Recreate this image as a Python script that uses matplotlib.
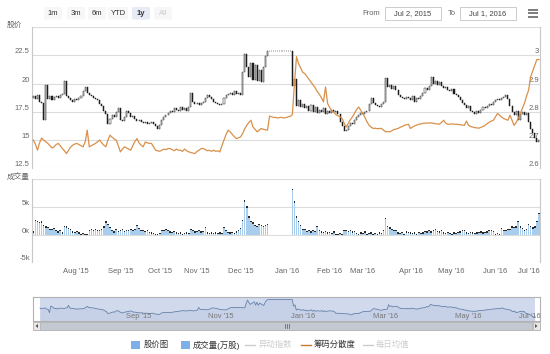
import numpy as np
import pandas as pd
import matplotlib
matplotlib.use("Agg")
import matplotlib.pyplot as plt
from matplotlib.patches import Rectangle, FancyBboxPatch, Polygon
from matplotlib.transforms import offset_copy

plt.rcParams['font.family'] = ['Liberation Sans', 'Noto Sans CJK SC', 'DejaVu Sans']

# trading calendar (Shanghai/Shenzhen), Jul 2 2015 - Jul 1 2016
holidays = ["2015-09-03", "2015-09-04", "2015-10-01", "2015-10-02", "2015-10-05",
            "2015-10-06", "2015-10-07", "2016-01-01", "2016-02-08", "2016-02-09",
            "2016-02-10", "2016-02-11", "2016-02-12", "2016-04-04", "2016-05-02",
            "2016-06-09", "2016-06-10"]
days = pd.bdate_range("2015-07-02", "2016-07-01")
days = days[~days.isin(pd.to_datetime(holidays))]

# daily close (股价)
closes = [18.9, 18.6, 19.0, 18.4, 18.3, 16.8, 19.9, 18.6, 18.9, 18.5,
          18.8, 18.9, 18.7, 19.0, 19.1, 20.2, 18.9, 18.7, 18.5, 18.4,
          18.6, 18.5, 18.7, 18.9, 19.3, 19.7, 19.2, 19.0, 18.9, 18.7,
          18.6, 18.5, 18.2, 18.0, 17.6, 17.3, 16.4, 16.9, 17.2, 17.0,
          17.5, 17.8, 16.8, 16.7, 17.0, 17.6, 17.4, 17.0, 17.1, 16.9,
          16.7, 16.8, 16.6, 16.5, 16.6, 16.4, 16.5, 16.6, 16.4, 16.2,
          16.0, 16.3, 16.8, 17.0, 17.2, 17.4, 17.6, 17.5, 17.8, 17.7,
          17.6, 17.9, 17.7, 17.8, 17.6, 17.9, 19.2, 18.4, 18.2, 18.3,
          18.1, 18.3, 18.4, 18.7, 19.0, 18.8, 18.6, 18.4, 18.3, 18.2,
          18.1, 18.2, 18.7, 19.0, 19.1, 19.2, 19.0, 19.3, 19.1, 19.2,
          19.0, 21.0, 22.6, 21.5, 20.6, 21.8, 20.3, 21.6, 20.2, 21.2,
          20.1, 21.5, 22.4, 22.85, 22.85, 22.85, 22.85, 22.85, 22.85, 22.85,
          22.85, 22.85, 22.85, 22.85, 22.85, 19.8, 20.4, 18.0, 18.5, 17.9,
          18.2, 17.8, 18.0, 17.6, 18.1, 17.5, 17.9, 17.4, 17.7, 17.5,
          17.8, 17.3, 17.6, 17.4, 17.7, 17.5, 17.6, 17.3, 16.6, 16.2,
          15.8, 15.9, 16.2, 16.5, 16.4, 16.8, 17.0, 17.2, 17.4, 17.3,
          17.5, 17.6, 18.2, 18.7, 18.3, 18.1, 18.0, 17.9, 18.2, 18.4,
          20.5, 19.7, 19.9, 19.5, 19.8, 19.4, 19.0, 18.8, 18.7, 18.6,
          18.8, 18.7, 18.5, 18.9, 18.4, 18.7, 18.6, 18.9, 19.2, 19.6,
          19.4, 19.8, 20.6, 20.0, 20.2, 19.9, 20.1, 19.8, 19.6, 19.7,
          19.4, 19.3, 19.5, 19.1, 19.0, 18.8, 18.5, 18.3, 18.1, 17.8,
          18.0, 17.6, 17.5, 17.3, 17.6, 17.4, 17.7, 17.9, 17.8, 18.0,
          18.2, 18.1, 18.4, 18.5, 18.6, 18.5, 18.7, 18.8, 19.0, 18.6,
          18.0, 17.5, 17.2, 17.6, 16.8, 17.3, 17.5, 17.2, 17.4, 16.6,
          16.0, 15.6, 15.2, 14.8, 15.0]
first_open = 18.7

# 筹码分散度 (right axis)
dispersion = [2.700, 2.685, 2.664, 2.690, 2.707, 2.700, 2.694, 2.688, 2.680, 2.672,
              2.676, 2.684, 2.688, 2.680, 2.670, 2.662, 2.652, 2.664, 2.675, 2.682,
              2.686, 2.688, 2.684, 2.680, 2.676, 2.693, 2.735, 2.676, 2.680, 2.684,
              2.688, 2.694, 2.700, 2.690, 2.682, 2.676, 2.700, 2.717, 2.710, 2.704,
              2.700, 2.680, 2.658, 2.668, 2.676, 2.672, 2.668, 2.664, 2.680, 2.695,
              2.705, 2.690, 2.682, 2.676, 2.693, 2.690, 2.688, 2.688, 2.676, 2.664,
              2.662, 2.660, 2.664, 2.668, 2.666, 2.670, 2.670, 2.666, 2.662, 2.668,
              2.664, 2.664, 2.660, 2.668, 2.662, 2.658, 2.656, 2.654, 2.652, 2.660,
              2.664, 2.670, 2.670, 2.666, 2.662, 2.664, 2.660, 2.664, 2.660, 2.662,
              2.658, 2.680, 2.700, 2.720, 2.735, 2.729, 2.720, 2.712, 2.705, 2.708,
              2.711, 2.723, 2.740, 2.752, 2.762, 2.770, 2.746, 2.738, 2.729, 2.735,
              2.741, 2.738, 2.736, 2.735, 2.785, 2.782, 2.780, 2.780, 2.778, 2.780,
              2.780, 2.778, 2.780, 2.782, 2.784, 2.790, 2.900, 2.995, 2.970, 2.955,
              2.940, 2.935, 2.925, 2.915, 2.905, 2.895, 2.885, 2.872, 2.862, 2.850,
              2.835, 2.888, 2.830, 2.815, 2.805, 2.798, 2.790, 2.786, 2.782, 2.777,
              2.760, 2.746, 2.760, 2.772, 2.782, 2.795, 2.808, 2.817, 2.805, 2.794,
              2.780, 2.765, 2.752, 2.746, 2.741, 2.742, 2.740, 2.741, 2.741, 2.735,
              2.729, 2.730, 2.729, 2.733, 2.737, 2.739, 2.741, 2.745, 2.748, 2.752,
              2.754, 2.756, 2.741, 2.746, 2.750, 2.753, 2.756, 2.757, 2.759, 2.760,
              2.760, 2.760, 2.761, 2.759, 2.758, 2.757, 2.756, 2.762, 2.770, 2.760,
              2.756, 2.756, 2.757, 2.756, 2.756, 2.755, 2.754, 2.753, 2.752, 2.767,
              2.752, 2.748, 2.746, 2.744, 2.743, 2.742, 2.745, 2.748, 2.752, 2.758,
              2.763, 2.767, 2.770, 2.782, 2.794, 2.788, 2.781, 2.776, 2.773, 2.770,
              2.788, 2.770, 2.752, 2.762, 2.776, 2.795, 2.812, 2.830, 2.855, 2.877,
              2.924, 2.945, 2.965, 2.985, 2.985]

# 成交量 (thousands)
volume_k = [0.6, 2.7, 2.5, 2.3, 2.4, 1.8, 1.5, 1.4, 1.1, 1.0,
            1.2, 0.8, 0.6, 0.9, 0.4, 1.6, 1.5, 1.2, 1.0, 0.6,
            0.5, 0.7, 0.4, 0.2, 0.3, 0.1, 0.2, 0.9, 1.1, 0.8,
            1.0, 0.9, 0.8, 1.0, 1.5, 2.4, 2.0, 1.4, 0.8, 0.6,
            1.0, 0.7, 0.9, 1.1, 0.7, 0.9, 0.8, 1.0, 0.8, 1.1,
            1.7, 1.2, 0.8, 0.9, 0.7, 0.8, 0.5, 0.4, 0.3, 0.2,
            0.2, 0.3, 0.9, 0.8, 1.0, 0.9, 0.6, 0.5, 0.7, 0.4,
            0.3, 0.4, 0.2, 0.3, 0.4, 0.3, 1.0, 0.9, 0.6, 0.7,
            0.8, 0.6, 0.7, 1.4, 0.4, 0.3, 0.4, 0.3, 0.4, 0.3,
            0.4, 0.3, 1.4, 0.8, 0.5, 0.4, 0.5, 0.3, 0.6, 0.9,
            1.2, 2.7, 6.2, 5.1, 3.3, 2.5, 2.2, 1.8, 1.6, 1.9,
            1.7, 1.6, 1.8, 1.9, 0, 0, 0, 0, 0, 0,
            0, 0, 0, 0, 0, 8.2, 6.0, 3.3, 2.5, 1.7,
            1.1, 1.0, 0.7, 0.9, 0.6, 0.8, 0.7, 1.6, 0.8, 0.6,
            0.5, 0.7, 0.4, 0.5, 0.3, 0.6, 0.2, 0.2, 0.3, 0.2,
            0.8, 0.9, 0.7, 0.8, 0.6, 0.7, 0.3, 0.2, 0.4, 0.3,
            0.6, 0.2, 0.3, 0.4, 0.2, 0.3, 0.2, 0.4, 0.3, 0.8,
            3.0, 1.6, 1.3, 1.0, 0.9, 0.8, 0.4, 0.3, 0.5, 0.2,
            0.6, 0.5, 0.4, 0.3, 0.4, 0.2, 0.5, 0.3, 0.4, 0.7,
            0.6, 0.8, 0.6, 0.9, 1.0, 0.7, 0.6, 0.8, 0.4, 0.3,
            0.5, 0.3, 0.2, 0.4, 0.3, 0.5, 0.6, 0.9, 0.8, 0.4,
            0.3, 0.5, 0.4, 0.3, 0.4, 0.5, 0.6, 0.4, 0.5, 0.6,
            0.9, 0.8, 0.7, 0.2, 0.3, 0.2, 1.2, 0.9, 0.8, 1.0,
            1.1, 1.5, 1.4, 1.5, 2.5, 1.5, 1.2, 0.9, 1.0, 1.9,
            1.6, 1.3, 1.5, 2.5, 4.0]

price_ticks = [12.5, 15, 17.5, 20, 22.5, 25]
disp_ticks = [2.6, 2.7, 2.8, 2.9, 3.0, 3.1]
vol_ticks = [-5, 0, 5, 10]
buttons = ["1m", "3m", "6m", "YTD", "1y", "All"]
legend_items = ["股价图", "成交量(万股)", "异动指数", "筹码分散度", "每日均值"]

W, H = 550, 354
fig = plt.figure(figsize=(W / 100, H / 100), dpi=100)
bg = fig.add_axes([0, 0, 1, 1])
bg.set_xlim(0, W)
bg.set_ylim(H, 0)
bg.axis('off')


def pane(x0, y0, x1, y1):
    return fig.add_axes([x0 / W, 1 - y1 / H, (x1 - x0) / W, (y1 - y0) / H])


GRID = '#dcdcdc'
LAB = '#666666'
FS = 5.5
n = len(closes)
idx = np.arange(n)

# ---- price pane
ax1 = pane(32.3, 27, 540, 168.3)
ax1.set_xlim(-0.5, n - 0.5)
ax1.set_ylim(12.5, 25)
for v in price_ticks:
    ax1.axhline(v, color=GRID, lw=0.8, zorder=0)
    if v < 25:
        ax1.text(0, v, f"{v:g}", ha='right', va='center', fontsize=FS, color=LAB,
                 transform=offset_copy(ax1.get_yaxis_transform(), fig=fig, x=-2.5, y=3.5, units='dots'))
opens = np.array([first_open] + closes[:-1])
c = np.array(closes)
up = c >= opens
ax1.bar(idx, np.abs(c - opens), bottom=np.minimum(c, opens), width=0.5,
        color=np.where(up, 'white', '#1c1c1c'), edgecolor='#1c1c1c', linewidth=0.35, zorder=3)
ax1.set_xticks([])
ax1.set_yticks([])
for s in ['top', 'bottom']:
    ax1.spines[s].set_visible(False)
for s in ['left', 'right']:
    ax1.spines[s].set_color('#c8c8c8')
    ax1.spines[s].set_linewidth(0.8)

axr = ax1.twinx()
axr.set_ylim(2.6, 3.1)
axr.plot(idx, dispersion, color='#d9904a', lw=0.9, zorder=4)
axr.set_yticks([])
for s in axr.spines.values():
    s.set_visible(False)
for w in disp_ticks[:-1]:
    axr.text(1, w, f"{w:g}", ha='right', va='center', fontsize=FS, color=LAB,
             transform=offset_copy(axr.get_yaxis_transform(), fig=fig, x=-1, y=3.5, units='dots'))

# ---- volume pane
ax2 = pane(32.3, 179.3, 540, 262.3)
ax2.set_xlim(-0.5, n - 0.5)
ax2.set_ylim(-5, 10)
for v in vol_ticks:
    ax2.axhline(v, color=GRID, lw=0.8, zorder=0)
    if v < 10:
        ax2.text(0, v, f"{v:g}k", ha='right', va='center', fontsize=FS, color=LAB,
                 transform=offset_copy(ax2.get_yaxis_transform(), fig=fig, x=-2.5, y=3.5, units='dots'))
vol = np.array(volume_k)
ax2.bar(idx, vol, width=0.75, color='#a9cdec', linewidth=0, zorder=2)
cap = np.minimum(vol, 0.22)
ax2.bar(idx, cap, bottom=vol - cap, width=0.75, color='#2a2a2a', linewidth=0, zorder=3)
ax2.set_xticks([])
ax2.set_yticks([])
for s in ['top', 'bottom']:
    ax2.spines[s].set_visible(False)
for s in ['left', 'right']:
    ax2.spines[s].set_color('#c8c8c8')
    ax2.spines[s].set_linewidth(0.8)

month_starts = pd.date_range("2015-08-01", "2016-07-01", freq="MS")
mpos = np.interp(month_starts.values.astype('int64'), days.values.astype('int64'), idx)
xt = ax2.get_xaxis_transform()
for m, p in zip(month_starts, mpos):
    lab = m.strftime("%b '%y")
    if m == month_starts[-1]:
        ax2.text(1, 0, lab, transform=offset_copy(ax2.transAxes, fig=fig, x=0, y=-9.4, units='dots'),
                 ha='right', va='center', fontsize=FS, color=LAB)
    else:
        ax2.text(p, 0, lab, transform=offset_copy(xt, fig=fig, x=-2, y=-9.4, units='dots'),
                 ha='center', va='center', fontsize=FS, color=LAB)

bg.text(7, 25, "股价", fontsize=FS, color=LAB, va='center', ha='left')
bg.text(7, 177, "成交量", fontsize=FS, color=LAB, va='center', ha='left')

# ---- navigator
axn = pane(33, 297, 540, 321)
dn = (days - days[0]).days.values
s_px = 495 / 365.0
axn.set_xlim(-(40 - 33) / s_px, 365 + (540 - 535) / s_px)
axn.set_ylim(13, 24)
axn.fill_between(dn, closes, 13, color='#4572a7', alpha=0.08, lw=0)
axn.plot(dn, closes, color='#6680aa', lw=0.6)
axn.axvspan(0, 365, color=(0.4, 0.52, 0.76), alpha=0.3, lw=0)
axn.set_xticks([])
axn.set_yticks([])
for s in axn.spines.values():
    s.set_color('#b2b1b6')
    s.set_linewidth(0.8)
nav_months = pd.date_range("2015-09-01", "2016-07-01", freq="2MS")
for m in nav_months:
    d = (m - days[0]).days
    lab = m.strftime("%b '%y")
    if m == nav_months[-1]:
        axn.text(1, 0, lab, transform=offset_copy(axn.transAxes, fig=fig, x=1, y=5, units='dots'),
                 ha='right', va='center', fontsize=FS, color='#777777')
    else:
        axn.text(d, 0, lab, transform=offset_copy(axn.get_xaxis_transform(), fig=fig, x=3, y=5, units='dots'),
                 ha='left', va='center', fontsize=FS, color='#777777')
for hx in [40, 535]:
    bg.add_patch(Rectangle((hx - 2.5, 304), 5, 10, fc='#ebe7e8', ec='#9a9a9a', lw=0.6, zorder=5))
    bg.plot([hx - 0.8, hx - 0.8], [306.5, 311.5], color='#666', lw=0.5, zorder=6)
    bg.plot([hx + 0.8, hx + 0.8], [306.5, 311.5], color='#666', lw=0.5, zorder=6)

# ---- scrollbar
bg.add_patch(Rectangle((33, 322), 507, 8, fc='#eeeeee', ec='#cccccc', lw=0.6))
bg.add_patch(Rectangle((40, 322), 492, 8, fc='#c3c9d1', ec='#b5b5b5', lw=0.6))
for bx in [33, 533]:
    bg.add_patch(Rectangle((bx, 322), 7, 8, fc='#ebe7e8', ec='#b5b5b5', lw=0.6))
bg.add_patch(Polygon([[38, 324], [38, 328], [35.5, 326]], closed=True, fc='#555', lw=0))
bg.add_patch(Polygon([[535, 324], [535, 328], [537.5, 326]], closed=True, fc='#555', lw=0))
for gx in [284.5, 286.5, 288.5]:
    bg.plot([gx, gx], [324, 328], color='#555', lw=0.5)

# ---- range selector and inputs
bx_centers = [53, 76, 97, 118, 141, 163]
bx_widths = [18, 18, 18, 20, 18, 18]
for lab, cx, bw in zip(buttons, bx_centers, bx_widths):
    sel = lab == "1y"
    bg.add_patch(FancyBboxPatch((cx - bw / 2, 7), bw, 12.5, boxstyle="round,pad=0,rounding_size=1.5",
                                fc='#e6ebf5' if sel else '#f7f7f7', ec='none'))
    bg.text(cx, 13.3, lab, ha='center', va='center', fontsize=FS,
            color='#cccccc' if lab == "All" else '#333333', fontweight='bold' if sel else 'normal')
bg.text(380, 13.5, "From", ha='right', va='center', fontsize=FS, color='#666666')
bg.text(456, 13.5, "To", ha='right', va='center', fontsize=FS, color='#666666')
for x0, txt in [(385, "Jul 2, 2015"), (460, "Jul 1, 2016")]:
    bg.add_patch(Rectangle((x0, 7), 56, 13, fc='white', ec='#cccccc', lw=0.7))
    bg.text(x0 + 28, 13.5, txt, ha='center', va='center', fontsize=FS, color='#444444')
for hy in [10, 13.3, 16.6]:
    bg.plot([528, 538], [hy, hy], color='#666666', lw=1.2, solid_capstyle='butt')

# ---- legend
ly = 345
bg.add_patch(Rectangle((131, ly - 4), 9, 8, fc='#7cb0e6', lw=0))
bg.text(144, ly, legend_items[0], ha='left', va='center', fontsize=6, color='#333333')
bg.add_patch(Rectangle((181, ly - 4), 9, 8, fc='#7cb0e6', lw=0))
bg.text(193, ly, legend_items[1], ha='left', va='center', fontsize=6, color='#333333')
bg.plot([245, 255], [ly, ly], color='#cccccc', lw=1)
bg.text(259, ly, legend_items[2], ha='left', va='center', fontsize=6, color='#cccccc')
bg.plot([301, 311], [ly, ly], color='#c57a30', lw=1)
bg.text(314, ly, legend_items[3], ha='left', va='center', fontsize=6, color='#333333')
bg.plot([363, 373], [ly, ly], color='#cccccc', lw=1)
bg.text(376, ly, legend_items[4], ha='left', va='center', fontsize=6, color='#cccccc')

fig.savefig("out.png", dpi=100)
